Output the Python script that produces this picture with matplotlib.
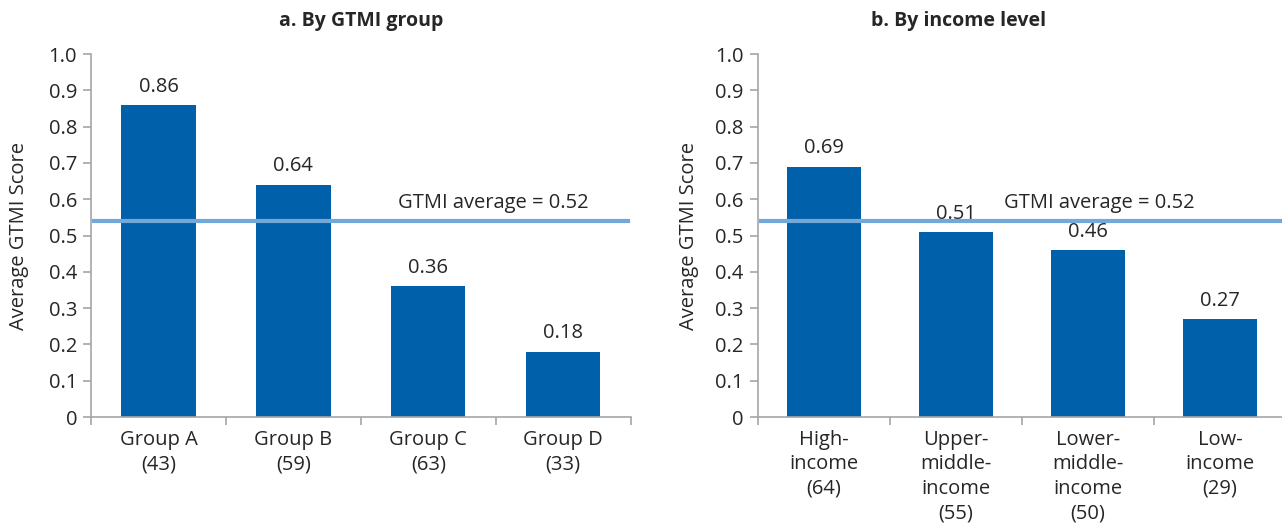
import matplotlib.pyplot as plt
import numpy as np

# panel a
groups = ["Group A\n(43)", "Group B\n(59)", "Group C\n(63)", "Group D\n(33)"]
group_scores = [0.86, 0.64, 0.36, 0.18]
# panel b
incomes = ["High-\nincome\n(64)", "Upper-\nmiddle-\nincome\n(55)",
           "Lower-\nmiddle-\nincome\n(50)", "Low-\nincome\n(29)"]
income_scores = [0.69, 0.51, 0.46, 0.27]

avg_label = "GTMI average = 0.52"
avg_line = 0.54  # where the line sits in the picture
yticks = [0, 0.1, 0.2, 0.3, 0.4, 0.5, 0.6, 0.7, 0.8, 0.9, 1.0]
ytick_labels = ["0", "0.1", "0.2", "0.3", "0.4", "0.5", "0.6", "0.7", "0.8", "0.9", "1.0"]

plt.rcParams['font.family'] = ['Open Sans', 'DejaVu Sans']
bar_col = "#0061aa"
line_col = "#72a8da"
grey = "#a6a6a6"
txt = "#262626"
fs = 14.5

fig = plt.figure(figsize=(12.82, 5.29), dpi=100)
ax1 = fig.add_axes([0.071, 0.2117, 0.421, 0.686])
ax2 = fig.add_axes([0.591, 0.2117, 0.412, 0.686])


def panel(ax, cats, vals, title, wid, avg_x, title_x, lpad):
    x = np.arange(len(cats))
    ax.bar(x, vals, width=wid, color=bar_col, zorder=2)
    for xi, v in zip(x, vals):
        ax.annotate("%.2f" % v, (xi, v), xytext=(0, 6), textcoords="offset points",
                    ha="center", va="bottom", fontsize=fs, color=txt)
    ax.axhline(avg_line, xmin=0.006, xmax=0.995, color=line_col, lw=3, zorder=3)
    ax.text(avg_x, avg_line + 0.022, avg_label, ha="center", va="bottom",
            fontsize=fs, color=txt)
    ax.set_xlim(-0.5, len(cats) - 0.5)
    ax.set_ylim(0, 1.0)
    ax.set_yticks(yticks)
    ax.set_yticklabels(ytick_labels, fontsize=fs, color=txt)
    ax.set_xticks(x)
    ax.set_xticklabels(cats, fontsize=fs, color=txt, linespacing=1.3)
    ax.set_xticks(np.arange(len(cats) + 1) - 0.5, minor=True)
    ax.tick_params(axis="x", which="major", length=0, pad=9)
    ax.tick_params(axis="x", which="minor", length=6, color=grey, width=1.2, direction="out")
    ax.tick_params(axis="y", length=6, color=grey, width=1.2, pad=4)
    for s in ["top", "right"]:
        ax.spines[s].set_visible(False)
    for s in ["left", "bottom"]:
        ax.spines[s].set_color(grey)
        ax.spines[s].set_linewidth(1.2)
    ax.set_ylabel("Average GTMI Score", fontsize=fs, color=txt, labelpad=lpad)
    ax.set_title(title, fontsize=14, fontweight="bold", color=txt, pad=20, x=title_x)


panel(ax1, groups, group_scores, "a. By GTMI group", 0.55, 2.48, 0.5, 14)
panel(ax2, incomes, income_scores, "b. By income level", 0.56, 2.09, 0.38, 12)

fig.savefig("out.png", dpi=100)
